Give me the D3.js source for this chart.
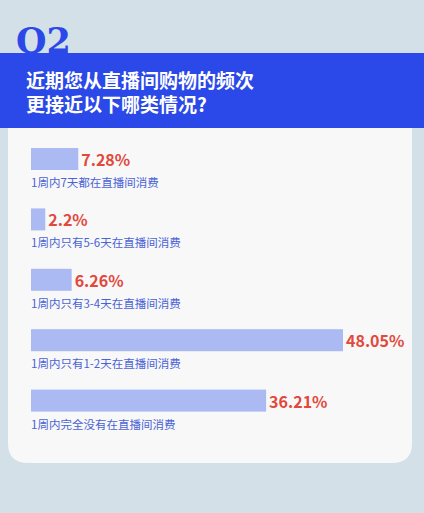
<!DOCTYPE html><html><head><meta charset="utf-8"><script src="https://cdn.jsdelivr.net/npm/d3@7"></script>
<style>body{margin:0;background:#d3e0e8}</style></head><body><svg id="c" width="424" height="513"></svg>
<script>
const categories=["1周内7天都在直播间消费","1周内只有5-6天在直播间消费","1周内只有3-4天在直播间消费","1周内只有1-2天在直播间消费","1周内完全没有在直播间消费"];
const values=[7.28,2.2,6.26,48.05,36.21];
const labels=["7.28%","2.2%","6.26%","48.05%","36.21%"];
const svg=d3.select("#c");
const F="'Noto Sans CJK SC',sans-serif";
svg.append("rect").attr("width",424).attr("height",513).attr("fill","#d3e0e8");
svg.append("path").attr("d","M8,120 H412 V443 Q412,463 392,463 H28 Q8,463 8,443 Z").attr("fill","#f8f8f8");
svg.append("rect").attr("x",0).attr("y",53).attr("width",424).attr("height",75).attr("fill","#2a49e8");
svg.append("text").attr("x",16).attr("y",53).text("Q2").attr("font-family","'DejaVu Serif',serif").attr("font-weight","bold").attr("font-size",35).attr("fill","#2a49e8");
["近期您从直播间购物的频次","更接近以下哪类情况?"].forEach((t,i)=>svg.append("text").attr("x",26).attr("y",88+i*24).text(t).attr("font-family",F).attr("font-weight","bold").attr("font-size",19).attr("fill","#fff"));
const x=d3.scaleLinear().domain([0,48.05]).range([0,312]);
const y=d3.scaleBand().domain(categories).range([148,450]).paddingInner(0);
const g=svg.append("g");
categories.forEach((c,i)=>{
 const top=y(c);
 g.append("rect").attr("x",31).attr("y",top).attr("width",x(values[i])).attr("height",22).attr("fill","#abbaf3");
 g.append("text").attr("x",31+x(values[i])+3).attr("y",top+18).text(labels[i]).attr("font-family",F).attr("font-weight","bold").attr("font-size",16).attr("fill","#e2483c");
 g.append("text").attr("x",31).attr("y",top+39).text(c).attr("font-family",F).attr("font-size",11.5).attr("fill","#4a63d6");
});
</script></body></html>
